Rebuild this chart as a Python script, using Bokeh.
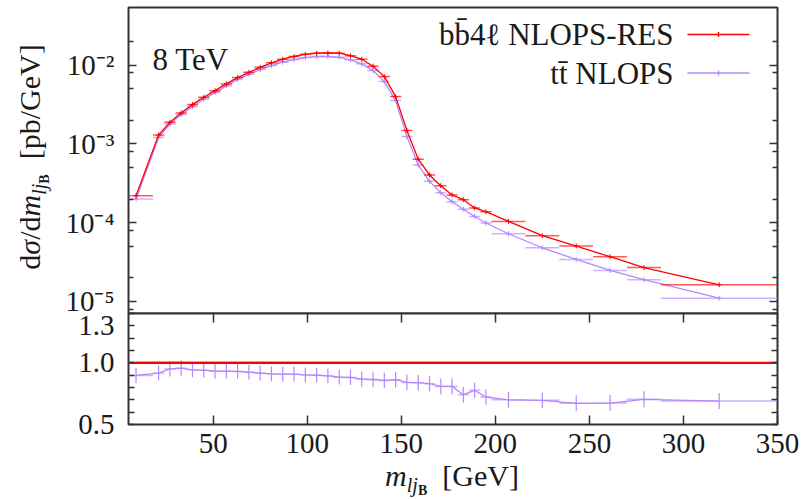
import numpy as np
from bokeh.plotting import figure
from bokeh.layouts import column, row
from bokeh.models import (Range1d, FixedTicker, LogAxis, LinearAxis, CustomJSTickFormatter,
                          PrintfTickFormatter, Label, BoxAnnotation, Div)
from bokeh.embed import file_html
from bokeh.resources import INLINE

# ---------------- data ----------------
bin_edges = [0, 18, 24, 30, 36, 42, 48, 54, 60, 66, 72, 78, 84, 90, 96, 102, 108, 114, 120,
             126, 132, 138, 144, 150, 156, 162, 168, 174, 180, 186, 192, 198, 216, 234, 252,
             270, 288, 350]
bb4l_nlops_res = [2.20e-4, 1.30e-3, 1.88e-3, 2.48e-3, 3.16e-3, 3.91e-3, 4.75e-3, 5.79e-3,
                  6.96e-3, 8.12e-3, 9.40e-3, 1.07e-2, 1.19e-2, 1.29e-2, 1.375e-2, 1.42e-2,
                  1.43e-2, 1.42e-2, 1.32e-2, 1.19e-2, 9.68e-3, 7.16e-3, 3.99e-3, 1.48e-3,
                  6.41e-4, 4.04e-4, 2.95e-4, 2.25e-4, 1.96e-4, 1.54e-4, 1.38e-4, 1.04e-4,
                  6.84e-5, 5.06e-5, 3.70e-5, 2.70e-5, 1.63e-5]
tt_nlops = [2.00e-4, 1.21e-3, 1.79e-3, 2.36e-3, 2.98e-3, 3.69e-3, 4.49e-3, 5.46e-3,
            6.56e-3, 7.66e-3, 8.80e-3, 9.89e-3, 1.09e-2, 1.18e-2, 1.25e-2, 1.29e-2,
            1.29e-2, 1.26e-2, 1.17e-2, 1.04e-2, 8.54e-3, 6.19e-3, 3.55e-3, 1.24e-3,
            5.41e-4, 3.35e-4, 2.40e-4, 1.85e-4, 1.48e-4, 1.20e-4, 9.91e-5, 7.24e-5,
            4.81e-5, 3.42e-5, 2.48e-5, 1.89e-5, 1.10e-5]
ratio_tt = [0.898, 0.916, 0.951, 0.957, 0.943, 0.940, 0.932, 0.932, 0.930, 0.924, 0.916,
            0.911, 0.908, 0.908, 0.903, 0.900, 0.895, 0.884, 0.882, 0.868, 0.865, 0.857,
            0.863, 0.841, 0.839, 0.831, 0.809, 0.809, 0.742, 0.777, 0.723, 0.700, 0.696,
            0.672, 0.674, 0.704, 0.690]
ratio_tt_err = [0.062, 0.060, 0.062, 0.062, 0.060, 0.060, 0.060, 0.060, 0.060, 0.060, 0.060,
                0.060, 0.060, 0.060, 0.060, 0.060, 0.060, 0.060, 0.062, 0.062, 0.062, 0.062,
                0.062, 0.063, 0.063, 0.063, 0.063, 0.063, 0.063, 0.063, 0.063, 0.064, 0.064,
                0.065, 0.065, 0.065, 0.065]
ratio_ref = [1.0] * len(bb4l_nlops_res)
y_major = [1e-5, 1e-4, 1e-3, 1e-2]
y_minor = [8e-6, 2e-5, 5e-5, 8e-5, 2e-4, 5e-4, 8e-4, 2e-3, 5e-3, 8e-3, 2e-2]
x_ticks = [50, 100, 150, 200, 250, 300, 350]
r_major = [0.5, 1.0, 1.3]
r_minor = [0.6, 0.7, 0.8, 0.9, 1.1, 1.2, 1.4]
series_labels = ["b\u0062\u03044\u2113 NLOPS-RES", "t\u0074\u0304 NLOPS"]
energy_label = "8 TeV"

# ---------------- styling ----------------
FONT = "Liberation Serif"
TXT = "#1a1a1a"
RED = "#ff0000"
PURPLE = "#b388ff"
LEFT_DIV = 60
FL, FR = 128, 777          # frame left/right (page px)
TOP_T, TOP_B = 7, 313
BOT_B = 424
PAD = 14                   # extra canvas room around the panel boundary for tick labels
BOT_BORDER = 50
XDIV_H = 499 - (BOT_B + BOT_BORDER)

edges = np.array(bin_edges, dtype=float)
lo, hi = edges[:-1], edges[1:]
xc = 0.5 * (lo + hi)

xr = Range1d(5, 350)

top = figure(frame_width=FR - FL, frame_height=TOP_B - TOP_T, x_range=xr,
             y_range=Range1d(7.04e-6, 0.054), y_axis_type="log", x_axis_location=None,
             output_backend="svg", toolbar_location=None,
             min_border_left=FL - LEFT_DIV, min_border_right=811 - FR, min_border_top=TOP_T,
             min_border_bottom=PAD)
bot = figure(frame_width=FR - FL, frame_height=BOT_B - TOP_B, x_range=xr,
             y_range=Range1d(0.5, 1.4), output_backend="svg", toolbar_location=None,
             min_border_left=FL - LEFT_DIV, min_border_right=811 - FR, min_border_top=PAD,
             min_border_bottom=BOT_BORDER, margin=(-2 * PAD, 0, 0, 0))

for p in (top, bot):
    p.xgrid.grid_line_color = None
    p.ygrid.grid_line_color = None
    p.outline_line_color = "#333333"
    p.outline_line_width = 2
    p.background_fill_color = "white"
top.border_fill_color = "white"
bot.border_fill_color = None


def style_axis(ax, tick_in, minor_in, show_labels=True):
    ax.axis_line_color = None
    ax.major_tick_in = tick_in
    ax.major_tick_out = 0
    ax.minor_tick_in = minor_in
    ax.minor_tick_out = 0
    ax.major_tick_line_color = "#333333"
    ax.minor_tick_line_color = "#333333"
    ax.major_tick_line_width = 1.5
    ax.minor_tick_line_width = 1.5
    ax.major_label_text_font = FONT
    ax.major_label_text_color = TXT
    if show_labels:
        ax.major_label_text_font_size = "29px"
    else:
        ax.major_label_text_font_size = "1px"
        ax.major_label_text_color = None
        ax.major_label_standoff = 0


sup_js = """
const m = {'-':'\u207b','0':'\u2070','1':'\u00b9','2':'\u00b2','3':'\u00b3','4':'\u2074',
           '5':'\u2075','6':'\u2076','7':'\u2077','8':'\u2078','9':'\u2079'};
const e = Math.round(Math.log10(tick));
return '10' + String(e).split('').map(c => m[c]).join('');
"""

# top panel axes
ly = top.yaxis[0]
ly.ticker = FixedTicker(ticks=y_major, minor_ticks=y_minor)
ly.formatter = CustomJSTickFormatter(code=sup_js)
style_axis(ly, 8, 5)
ly.major_label_standoff = 14
ry = LogAxis(ticker=FixedTicker(ticks=y_major, minor_ticks=y_minor))
style_axis(ry, 8, 5, show_labels=False)
top.add_layout(ry, "right")

# bottom panel axes
bx = bot.xaxis[0]
bx.ticker = FixedTicker(ticks=x_ticks, minor_ticks=[])
style_axis(bx, 9, 0)
bx.major_label_standoff = 9
tx = LinearAxis(ticker=FixedTicker(ticks=x_ticks, minor_ticks=[]))
style_axis(tx, 9, 0, show_labels=False)
bot.add_layout(tx, "above")
by = bot.yaxis[0]
by.ticker = FixedTicker(ticks=r_major, minor_ticks=r_minor)
by.formatter = PrintfTickFormatter(format="%.1f")
style_axis(by, 6, 6)
by.major_label_standoff = 14
ryb = LinearAxis(ticker=FixedTicker(ticks=r_major, minor_ticks=r_minor))
style_axis(ryb, 6, 6, show_labels=False)
bot.add_layout(ryb, "right")

# ---------------- top panel data ----------------
for vals, col in ((tt_nlops, PURPLE), (bb4l_nlops_res, RED)):
    v = np.array(vals)
    top.segment(x0=lo, x1=hi, y0=v, y1=v, line_color=col, line_width=1.5, line_alpha=0.65)
    top.line(xc, v, line_color=col, line_width=1.3)
    top.scatter(xc, v, marker="cross", size=5, line_color=col, line_width=1)

# ---------------- ratio panel data ----------------
r = np.array(ratio_tt)
re_ = np.array(ratio_tt_err)
bot.segment(x0=lo, x1=hi, y0=r, y1=r, line_color=PURPLE, line_width=1.5, line_alpha=0.65)
bot.segment(x0=xc, x1=xc, y0=r - re_, y1=r + re_, line_color=PURPLE, line_width=1.2)
bot.line(xc, r, line_color=PURPLE, line_width=1.3)
rr = np.array(ratio_ref)
bot.segment(x0=lo, x1=hi, y0=rr, y1=rr, line_color=RED, line_width=2.2)
bot.line(xc, rr, line_color=RED, line_width=2.2)


# ---------------- in-frame texts (page coords -> frame-relative screen units) -------------
def plab(p, fb, X, Y, text, size, style="normal", align="left", baseline="alphabetic"):
    p.add_layout(Label(x=X - FL, y=fb - Y, x_units="screen", y_units="screen", text=text,
                       text_font=FONT, text_font_size=f"{size}px", text_font_style=style,
                       text_align=align, text_baseline=baseline, text_color=TXT))


def pbox(p, fb, X0, X1, Y0, Y1, color):
    p.add_layout(BoxAnnotation(left=X0 - FL, right=X1 - FL, bottom=fb - Y1, top=fb - Y0,
                               left_units="screen", right_units="screen",
                               top_units="screen", bottom_units="screen",
                               fill_color=color, fill_alpha=1.0, line_color=None))


plab(top, TOP_B, 152, 59, energy_label, 31)
for i, (txt, col) in enumerate(zip(series_labels, (RED, PURPLE))):
    yc = 34 + 38.5 * i
    plab(top, TOP_B, 673, yc, txt, 31, align="right", baseline="middle")
    pbox(top, TOP_B, 687, 749, yc - 0.7, yc + 0.7, col)
    pbox(top, TOP_B, 717.3, 718.7, yc - 2.5, yc + 2.5, col)

# ---------------- axis titles (HTML text with sub-scripts) ----------------
BASE = ("white-space:nowrap; font-family:'Liberation Serif'; font-size:30px; "
        "line-height:30px; color:#1a1a1a;")
SUB = ("<span style=\"position:relative; top:6px; font-size:20px;\"><i>lj</i>"
       "<span style=\"position:relative; top:3px; font-size:14px; font-weight:bold;\">B</span>"
       "</span>")
ytitle = ("<div style=\"position:absolute; left:15px; top:157px; transform-origin:0 0; "
          "transform:rotate(-90deg) translateX(-50%); " + BASE + "\">"
          "d<i>\u03c3</i>/d<i>m</i>" + SUB + "&nbsp;&nbsp;[pb/GeV]</div>")
xtitle_top = 486 - 25 - (BOT_B + BOT_BORDER)
xtitle = ("<div style=\"position:absolute; left:" + str(452 - LEFT_DIV) + "px; top:"
          + str(xtitle_top) + "px; transform:translateX(-50%); " + BASE + "\">"
          "<i>m</i>" + SUB + "&nbsp;&nbsp;[GeV]</div>")

ydiv = Div(text=ytitle, width=LEFT_DIV, height=499, margin=0,
           styles={"overflow": "visible"})
xdiv = Div(text=xtitle, width=811 - LEFT_DIV, height=XDIV_H, margin=0,
           styles={"overflow": "visible"})

layout = row(ydiv, column(top, bot, xdiv, spacing=0), spacing=0)
open("out.html", "w").write(file_html(layout, INLINE))
